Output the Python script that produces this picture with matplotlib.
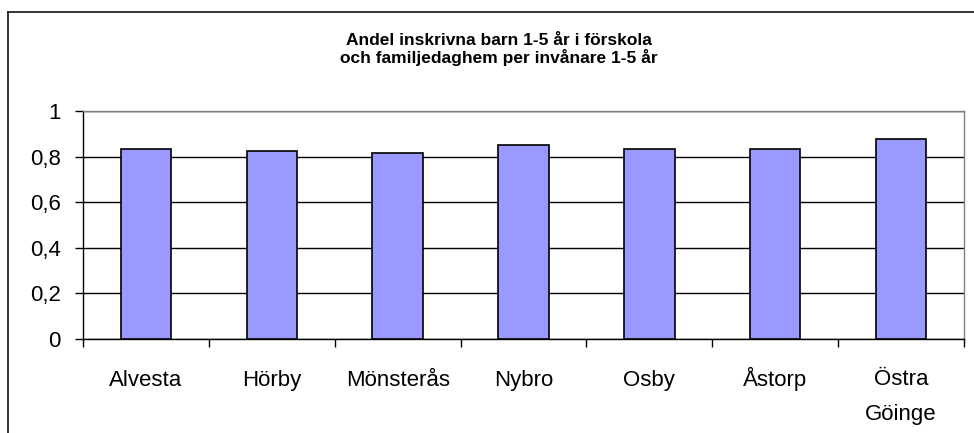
import matplotlib.pyplot as plt
from matplotlib.lines import Line2D
from matplotlib.ticker import FuncFormatter

# ================== DATA ==================
kommuner = ["Alvesta", "Hörby", "Mönsterås", "Nybro", "Osby", "Åstorp", "Östra\nGöinge"]
andel = [0.833, 0.825, 0.817, 0.850, 0.833, 0.833, 0.877]
yticks = [0, 0.2, 0.4, 0.6, 0.8, 1.0]
titel = ["Andel inskrivna barn 1-5 år i förskola",
         "och familjedaghem per invånare 1-5 år"]

plt.rcParams['font.family'] = ['Liberation Sans', 'DejaVu Sans']

W, H = 974, 433
fig = plt.figure(figsize=(W / 100, H / 100), dpi=100)

# plot area in pixels: left 83, right 964, top 111, bottom 339
ax = fig.add_axes([83 / W, 1 - 339 / H, (964 - 83) / W, (339 - 111) / H])

x = range(len(kommuner))
ax.bar(x, andel, width=0.4, color="#9999ff", edgecolor="black", linewidth=1.2, zorder=3)

ax.set_xlim(-0.5, len(kommuner) - 0.5)
ax.set_ylim(0, 1)
ax.set_yticks(yticks)
ax.yaxis.set_major_formatter(FuncFormatter(lambda v, p: ("%g" % round(v, 1)).replace(".", ",")))
ax.yaxis.grid(True, color="black", linewidth=1.0, zorder=1)

# kategori-etiketter (första radens baslinje ca 386 px, radavstånd ca 34 px)
ax.set_xticks([])
ax.set_xticks([i + 0.5 for i in range(-1, len(kommuner))], minor=True)
ax.tick_params(axis="x", which="minor", length=6, width=1, direction="out", color="black")
for i, namn in enumerate(kommuner):
    baslinje = 386 + 34 * namn.count("\n")   # va=baseline följer sista raden
    ax.text(i, (339 - baslinje) / 228, namn, transform=ax.get_xaxis_transform(),
            ha="center", va="baseline", fontsize=16, linespacing=1.88)

ax.tick_params(axis="y", length=6, width=1, direction="out", labelsize=16, pad=10)

for side in ["top", "right"]:
    ax.spines[side].set_color("#808080")
    ax.spines[side].set_linewidth(1.0)
for side in ["left", "bottom"]:
    ax.spines[side].set_color("black")
    ax.spines[side].set_linewidth(1.0)

fig.text(499 / W, 1 - 45 / H, titel[0], ha="center", va="baseline",
         fontsize=12.5, fontweight="bold")
fig.text(499 / W, 1 - 63 / H, titel[1], ha="center", va="baseline",
         fontsize=12.5, fontweight="bold")

# yttre diagramram (vänster och övre kant)
fig.add_artist(Line2D([8 / W, 8 / W], [0, 1 - 12 / H], color="#222222", linewidth=1.3))
fig.add_artist(Line2D([8 / W, 1], [1 - 12 / H, 1 - 12 / H], color="#222222", linewidth=1.3))

fig.savefig("out.png", dpi=100)
